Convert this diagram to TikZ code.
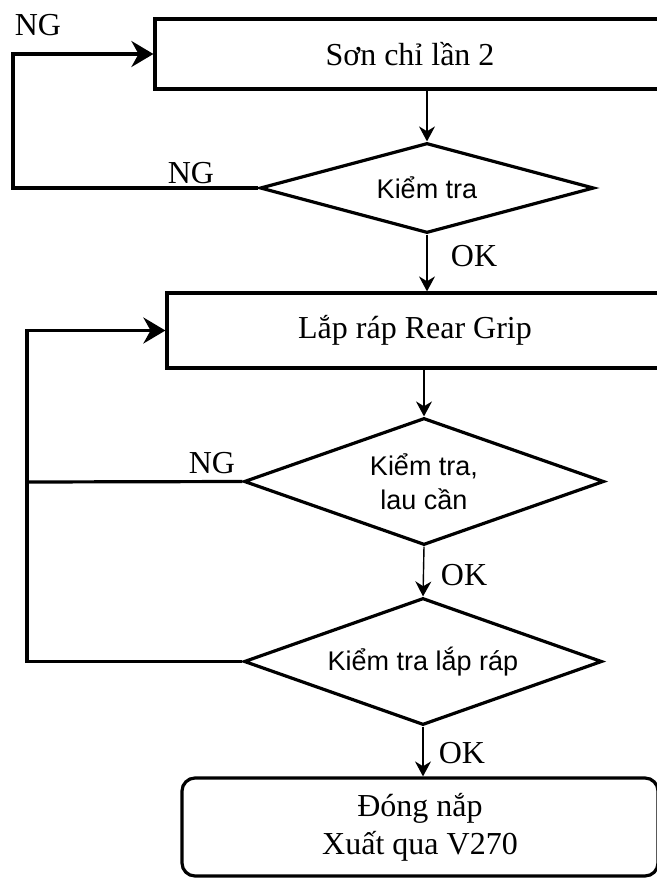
\documentclass[tikz,border=0pt]{standalone}
\usepackage{fontspec}
\setmainfont{Liberation Serif}
\setsansfont{Liberation Sans}
\usetikzlibrary{positioning,shapes.geometric,arrows.meta}
\tikzset{>={Stealth[length=7.5pt,width=8pt]}}

\begin{document}
\begin{tikzpicture}[
    x=0.5pt, y=-0.5pt,
    process/.style={rectangle, draw, line width=1.6pt, inner sep=0pt, align=center, font=\fontsize{16}{19}\selectfont},
    finish/.style={process, rounded corners=6.5pt},
    check/.style={diamond, draw, line width=1.6pt, inner sep=0pt, align=center, font=\sffamily\fontsize{13.5}{17}\selectfont},
    flow/.style={->, line width=0.7pt},
    back/.style={-{Stealth[length=11pt,width=13pt]}, line width=1.6pt},
    tag/.style={inner sep=0pt, font=\fontsize{16}{19}\selectfont}
]
\useasboundingbox (0,0) rectangle (657,878);
\clip (0,0) rectangle (657,878);

% steps
\node[process, minimum width=255pt, minimum height=35pt] (son) at (410,54) {Sơn chỉ lần 2};
\node[check, minimum width=167pt, minimum height=45pt, aspect=3.7] (chk1) at (427,188) {Kiểm tra};
\node[process, minimum width=248pt, minimum height=37.5pt] (rear) at (415,330.5) {Lắp ráp Rear Grip};
\node[check, minimum width=180pt, minimum height=63.5pt, aspect=2.84] (chk2) at (424,481.5) {Kiểm tra,\\lau cần};
\node[check, minimum width=179pt, minimum height=63.5pt, aspect=2.8] (chk3) at (423,661.5) {Kiểm tra lắp ráp};
\node[finish, minimum width=238pt, minimum height=49pt] (close) at (420,827) {Đóng nắp\\Xuất qua V270};

% labels
\node[tag] (ng0) at (38,25) {NG};
\node[tag] (ng1) at (191,173) {NG};
\node[tag] (ok1) at (474,256) {OK};
\node[tag] (ng2) at (212,463) {NG};
\node[tag] (ok2) at (464,575) {OK};
\node[tag] (ok3) at (462,753) {OK};

\coordinate (back1) at (13,188);
\coordinate (back2) at (27,482);
\coordinate (back3) at (27,661.5);

% main flow
\draw[flow] (son.south -| chk1.north) -- (chk1.north);
\draw[flow] (chk1.south) -- (chk1.south |- rear.north);
\draw[flow] (rear.south -| chk2.north) -- (chk2.north);
\draw[flow] (chk2.south) -- (chk3.north);
\draw[flow] (chk3.south) -- (chk3.south |- close.north);

% rework loops
\draw[back] (chk1.west) -- (back1) |- (son.west);
\draw[line width=1.6pt] (chk2.west) -- (back2);
\draw[back] (chk3.west) -- (back3) -- (back2) |- (rear.west);
\end{tikzpicture}
\end{document}
